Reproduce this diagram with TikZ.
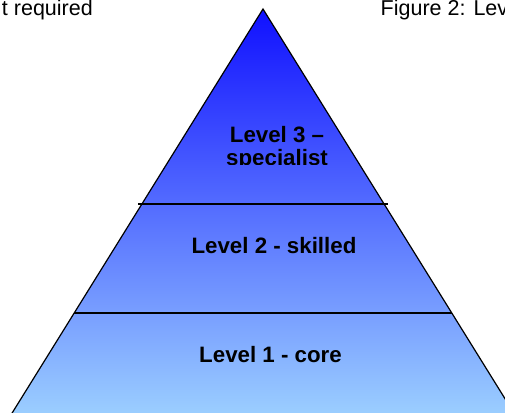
\documentclass[tikz,border=0pt]{standalone}
\usepackage{fontspec}
\setmainfont{Liberation Sans}
\definecolor{peakblue}{RGB}{16,16,255}
\definecolor{midblue}{RGB}{110,142,255}
\definecolor{baseblue}{RGB}{155,206,255}
\tikzset{
	level/.style={font=\fontsize{22.3}{25}\selectfont\bfseries, inner sep=0pt, anchor=base},
	caption/.style={font=\fontsize{21.5}{24}\selectfont, inner sep=0pt},
	divider/.style={line width=1.2pt}
}

\begin{document}
\begin{tikzpicture}[x=1pt,y=1pt]
	\useasboundingbox (0,0) rectangle (505,412);
	\clip (0,0) rectangle (505,412);

	% pyramid corners
	\coordinate (apex) at (263,403);
	\coordinate (left) at (11.5,-2);
	\coordinate (right) at (514.5,-2);

	% pyramid body
	\draw[line width=1.2pt, top color=peakblue, middle color=midblue, bottom color=baseblue] (left) -- (apex) -- (right) -- cycle;

	% dividers
	\coordinate (upperl) at (138,208);
	\coordinate (upperr) at (388,208);
	\coordinate (lowerl) at (74,99);
	\coordinate (lowerr) at (452,99);
	\draw[divider] (upperl) -- (upperr);
	\draw[divider] (lowerl) -- (lowerr);

	% level labels
	\begin{scope}
		\clip (0,247.5) rectangle (505,412);
		\node[level] (specialist) at (277,269.7) {Level 3 –};
		\node[level] (specialistb) at (277,246.5) {specialist};
	\end{scope}
	\node[level] (skilled) at (274,158) {Level 2 - skilled};
	\node[level] (core) at (270.5,49.7) {Level 1 - core};

	% cut-off page text
	\node[caption, anchor=base east] (required) at (93,396) {t required};
	\node[caption, anchor=base west] (figure) at (380.5,396) {Figure 2: Lev};
\end{tikzpicture}
\end{document}
